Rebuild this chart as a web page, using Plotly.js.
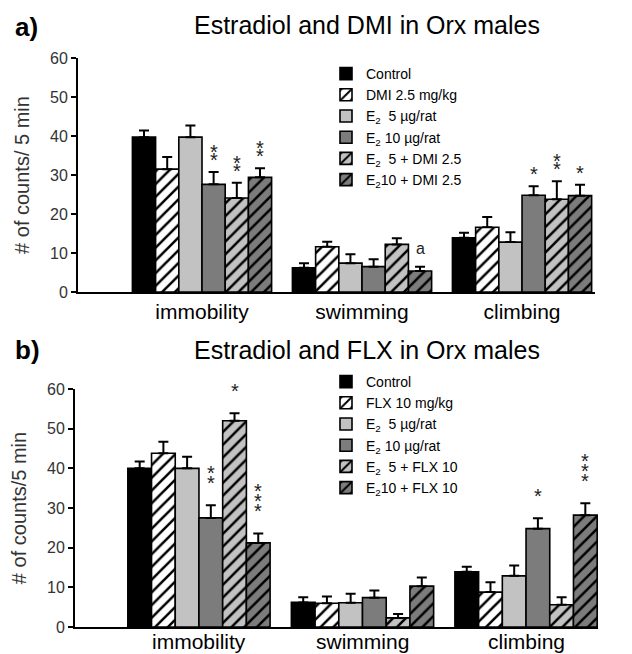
<!DOCTYPE html>
<html>
<head>
<meta charset="utf-8">
<script src="https://cdn.plot.ly/plotly-3.0.1.min.js"></script>
<style>html,body{margin:0;padding:0;background:#fff;}#chart{width:632px;height:654px;}</style>
</head>
<body>
<div id="chart"></div>
<script>
// ---------- data ----------
const categories = ['immobility', 'swimming', 'climbing'];

const namesA = ['Control', 'DMI 2.5 mg/kg', 'E<sub>2</sub>  5 µg/rat', 'E<sub>2</sub> 10 µg/rat', 'E<sub>2</sub>  5 + DMI 2.5', 'E<sub>2</sub>10 + DMI 2.5'];
const namesB = ['Control', 'FLX 10 mg/kg', 'E<sub>2</sub>  5 µg/rat', 'E<sub>2</sub> 10 µg/rat', 'E<sub>2</sub>  5 + FLX 10', 'E<sub>2</sub>10 + FLX 10'];

// panel a: Estradiol and DMI (means per category)
const aControl = [39.7, 6.2, 13.9];
const aDMI     = [31.5, 11.6, 16.6];
const aE5      = [39.7, 7.4, 12.8];
const aE10     = [27.6, 6.5, 24.8];
const aE5DMI   = [24.1, 12.2, 23.8];
const aE10DMI  = [29.4, 5.4, 24.7];
// panel a: SEM (upper error)
const aControlErr = [1.7, 1.2, 1.3];
const aDMIErr     = [3.1, 1.3, 2.6];
const aE5Err      = [3.0, 2.3, 2.5];
const aE10Err     = [3.2, 1.9, 2.3];
const aE5DMIErr   = [3.9, 1.6, 4.6];
const aE10DMIErr  = [2.3, 1.1, 2.8];

// panel b: Estradiol and FLX
const bControl = [40.0, 6.2, 13.9];
const bFLX     = [43.8, 6.0, 8.8];
const bE5      = [40.0, 6.1, 12.9];
const bE10     = [27.5, 7.4, 24.8];
const bE5FLX   = [52.0, 2.3, 5.6];
const bE10FLX  = [21.2, 10.3, 28.2];
const bControlErr = [1.7, 1.3, 1.3];
const bFLXErr     = [2.9, 1.7, 2.5];
const bE5Err      = [2.9, 2.3, 2.6];
const bE10Err     = [3.2, 1.8, 2.6];
const bE5FLXErr   = [1.9, 1.0, 1.9];
const bE10FLXErr  = [2.4, 2.2, 3.0];

// significance marks: category index, series index, text
const sigACat = [0, 0, 0, 1, 2, 2, 2];
const sigASer = [3, 4, 5, 5, 3, 4, 5];
const sigATxt = ['**', '**', '**', 'a', '*', '**', '*'];
const sigBCat = [0, 0, 0, 2, 2];
const sigBSer = [3, 4, 5, 3, 5];
const sigBTxt = ['**', '*', '***', '*', '***'];

// ---------- styles ----------
const styles = [
  {bg: '#000000', hatch: false},
  {bg: '#ffffff', hatch: true},
  {bg: '#c2c2c2', hatch: false},
  {bg: '#7c7c7c', hatch: false},
  {bg: '#c2c2c2', hatch: true},
  {bg: '#7c7c7c', hatch: true}
];
const W = 632, H = 654;
const BARGAP = 0.13;
const NS = 6;
const FONT = 'Liberation Sans, Arial, sans-serif';

function px2x(p) { return p / W; }
function px2y(p) { return 1 - p / H; }

const valsA = [aControl, aDMI, aE5, aE10, aE5DMI, aE10DMI];
const errsA = [aControlErr, aDMIErr, aE5Err, aE10Err, aE5DMIErr, aE10DMIErr];
const valsB = [bControl, bFLX, bE5, bE10, bE5FLX, bE10FLX];
const errsB = [bControlErr, bFLXErr, bE5Err, bE10Err, bE5FLXErr, bE10FLXErr];

const xIdx = categories.map((c, i) => i);
const traces = [];
function addPanel(vals, errs, names, xa, ya, legendId) {
  vals.forEach((v, s) => {
    const st = styles[s];
    const marker = {color: st.bg, line: {color: '#000', width: 1.6}};
    if (st.hatch) {
      marker.pattern = {shape: '/', fgcolor: '#000', bgcolor: st.bg, size: 9, solidity: 0.28, fillmode: 'replace'};
    }
    traces.push({
      type: 'bar', x: xIdx, y: v, name: names[s],
      xaxis: xa, yaxis: ya, legend: legendId,
      marker: marker,
      error_y: {type: 'data', symmetric: false, array: errs[s], arrayminus: errs[s].map(() => 0),
                color: '#000', thickness: 2, width: 5},
      hoverinfo: 'skip'
    });
  });
}
addPanel(valsA, errsA, namesA, 'x', 'y', 'legend');
addPanel(valsB, errsB, namesB, 'x2', 'y2', 'legend2');

function barCenter(cat, s) {
  const w = 1 - BARGAP;
  return cat - w / 2 + (s + 0.5) * w / NS;
}

const annotations = [];
// stacked asterisks: one text per mark; tight line spacing comes from a small base font
function addSig(cats, sers, txts, vals, errs, xref, yref, gap, step) {
  cats.forEach((c, i) => {
    const s = sers[i];
    const top = vals[s][c] + errs[s][c];
    const t = txts[i];
    if (t === 'a') {
      annotations.push({x: barCenter(c, s), y: top, xref: xref, yref: yref, text: 'a', showarrow: false,
        yanchor: 'bottom', yshift: 8, font: {family: FONT, size: 16, color: '#222'}});
      return;
    }
    const lines = t.split('').map(() => '<span style="font-size:20px">*</span>').join('<br>');
    annotations.push({x: barCenter(c, s), y: top, xref: xref, yref: yref, text: lines, showarrow: false,
      yanchor: 'bottom', yshift: gap, borderpad: 0,
      font: {family: FONT, size: step / 1.3, color: '#222'}});
  });
}
addSig(sigACat, sigASer, sigATxt, valsA, errsA, 'x', 'y', 0, 8);
addSig(sigBCat, sigBSer, sigBTxt, valsB, errsB, 'x2', 'y2', 10, 10);

// category labels of the lower panel (placed as text at the category positions)
categories.forEach((c, i) => {
  annotations.push({x: i, xref: 'x2', y: 0, yref: 'paper', xanchor: 'center', yanchor: 'bottom',
    text: c, showarrow: false, font: {family: FONT, size: 21, color: '#000'}, borderpad: 0});
});

// panel labels and titles
annotations.push({xref: 'paper', yref: 'paper', x: px2x(13), y: px2y(27), xanchor: 'left', yanchor: 'middle',
  text: '<b>a)</b>', showarrow: false, font: {family: FONT, size: 26, color: '#000'}});
annotations.push({xref: 'paper', yref: 'paper', x: px2x(367), y: px2y(25), xanchor: 'center', yanchor: 'middle',
  text: 'Estradiol and DMI in Orx males', showarrow: false, font: {family: FONT, size: 25, color: '#000'}});
annotations.push({xref: 'paper', yref: 'paper', x: px2x(13), y: px2y(350), xanchor: 'left', yanchor: 'middle',
  text: '<b>b)</b>', showarrow: false, font: {family: FONT, size: 26, color: '#000'}});
annotations.push({xref: 'paper', yref: 'paper', x: px2x(367), y: px2y(350), xanchor: 'center', yanchor: 'middle',
  text: 'Estradiol and FLX in Orx males', showarrow: false, font: {family: FONT, size: 25, color: '#000'}});

const yCommon = {
  range: [0, 60], dtick: 10, showgrid: false, zeroline: false,
  showline: true, linecolor: '#000', linewidth: 2,
  ticks: 'outside', ticklen: 5, tickwidth: 2, tickcolor: '#000',
  tickfont: {family: FONT, size: 16, color: '#333'}, fixedrange: true
};
const xCommon = {
  tickvals: xIdx, ticktext: categories, showgrid: false, zeroline: false,
  showline: true, linecolor: '#000', linewidth: 2, ticks: '',
  tickfont: {family: FONT, size: 21, color: '#000'}, fixedrange: true
};

const layout = {
  width: W, height: H,
  margin: {l: 0, r: 0, t: 0, b: 0},
  paper_bgcolor: '#fff', plot_bgcolor: '#fff',
  font: {family: FONT, color: '#000'},
  barmode: 'group', bargap: BARGAP, bargroupgap: 0,
  showlegend: true,
  xaxis: Object.assign({}, xCommon, {domain: [px2x(78), px2x(595)], range: [-0.775, 2.456], anchor: 'y'}),
  yaxis: Object.assign({}, yCommon, {domain: [px2y(292), px2y(58)], anchor: 'x',
    title: {text: '# of counts/ 5 min', font: {family: FONT, size: 20, color: '#333'}, standoff: 15}}),
  xaxis2: Object.assign({}, xCommon, {domain: [px2x(75), px2x(598)], range: [-0.758, 2.44], anchor: 'y2',
    showticklabels: false}),
  yaxis2: Object.assign({}, yCommon, {domain: [px2y(627), px2y(389)], anchor: 'x2',
    title: {text: '# of counts/5 min', font: {family: FONT, size: 20, color: '#333'}, standoff: 15}}),
  legend: {x: px2x(326), y: px2y(58), xanchor: 'left', yanchor: 'top', bgcolor: 'rgba(0,0,0,0)',
    font: {family: FONT, size: 14, color: '#000'}, tracegroupgap: 0, itemwidth: 30},
  legend2: {x: px2x(326), y: px2y(366), xanchor: 'left', yanchor: 'top', bgcolor: 'rgba(0,0,0,0)',
    font: {family: FONT, size: 14, color: '#000'}, tracegroupgap: 0, itemwidth: 30},
  annotations: annotations
};

Plotly.newPlot('chart', traces, layout, {displayModeBar: false, staticPlot: true});
</script>
</body>
</html>
